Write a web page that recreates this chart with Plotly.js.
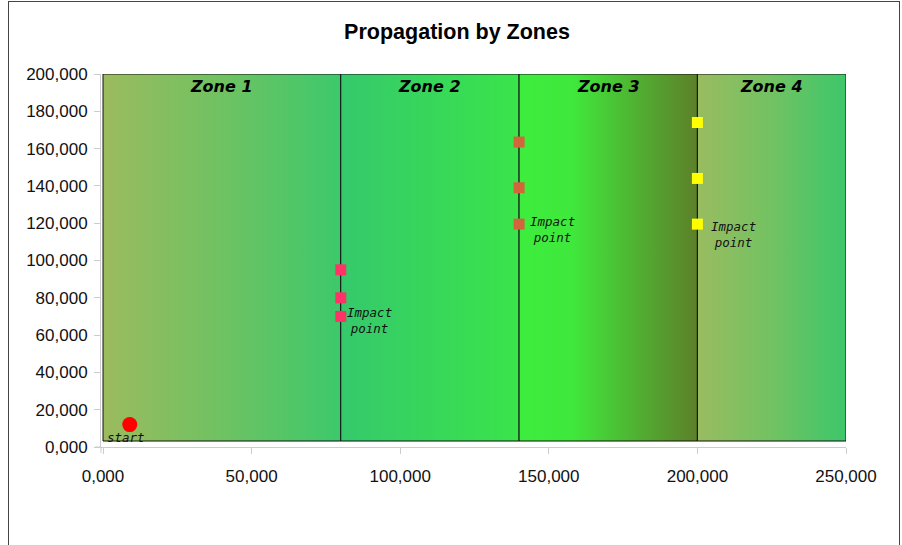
<!DOCTYPE html>
<html>
<head>
<meta charset="utf-8">
<script src="https://cdn.plot.ly/plotly-3.0.1.min.js"></script>
<style>
  html, body { margin: 0; padding: 0; background: #fff; }
  #frame { position: absolute; left: 8px; top: 1px; width: 890px; height: 620px; border: 1px solid #444; }
  #chart { position: absolute; left: 0; top: 0; width: 902px; height: 545px; }
</style>
</head>
<body>
<div id="frame"></div>
<div id="chart"></div>
<script>
// ---- data ----
const zoneNames = ['Zone 1', 'Zone 2', 'Zone 3', 'Zone 4'];
const zoneBounds = [0, 80000, 140000, 200000, 250000];
const zoneBottom = 3200;
const zoneTop = 200000;

const zone2X = [80000, 80000, 80000];
const zone2Y = [95000, 80000, 70000];
const zone3X = [140000, 140000, 140000];
const zone3Y = [163500, 139000, 119500];
const zone4X = [200000, 200000, 200000];
const zone4Y = [174000, 144000, 119500];

const startX = [9000];
const startY = [12000];

const xTicks = [0, 50000, 100000, 150000, 200000, 250000];
const yTicks = [0, 20000, 40000, 60000, 80000, 100000, 120000, 140000, 160000, 180000, 200000];

// ---- styles ----
const zoneScales = [
  [[0, '#9bbb5e'], [0.5, '#6fc262'], [1, '#3cc96b']],
  [[0, '#35c96c'], [1, '#3ae44a']],
  [[0, '#3ded3e'], [0.3, '#40e83c'], [0.7, '#52aa31'], [1, '#5d8029']],
  [[0, '#99bc60'], [0.5, '#72c262'], [1, '#3cc76a']]
];
const pointColors = ['#ff3366', '#d2663a', '#ffff00'];
const impactOffsets = [[4, -4], [9, -5], [12, -10]]; // [xshift, yshift] px
const monoFont = { family: 'DejaVu Sans Mono', size: 12.5, color: '#111' };

const traces = [];
for (let i = 0; i < zoneNames.length; i++) {
  const x0 = zoneBounds[i], x1 = zoneBounds[i + 1];
  traces.push({
    type: 'scatter', mode: 'lines',
    x: [x0, x1, x1, x0, x0],
    y: [zoneBottom, zoneBottom, zoneTop, zoneTop, zoneBottom],
    fill: 'toself',
    fillgradient: { type: 'horizontal', colorscale: zoneScales[i] },
    line: { color: '#111', width: 1 },
    hoverinfo: 'skip'
  });
}
const series = [[zone2X, zone2Y], [zone3X, zone3Y], [zone4X, zone4Y]];
series.forEach((s, i) => {
  traces.push({
    type: 'scatter', mode: 'markers',
    x: s[0], y: s[1],
    marker: { symbol: 'square', size: 11, color: pointColors[i] }
  });
});
traces.push({
  type: 'scatter', mode: 'markers',
  x: startX, y: startY,
  marker: { symbol: 'circle', size: 15, color: '#ff0000' }
});

const annotations = [];
zoneNames.forEach((name, i) => {
  annotations.push({
    x: (zoneBounds[i] + zoneBounds[i + 1]) / 2, y: zoneTop,
    xref: 'x', yref: 'y', text: '<b><i>' + name + '</i></b>',
    showarrow: false, xanchor: 'center', yanchor: 'middle', yshift: -12,
    font: { family: 'DejaVu Sans', size: 16, color: '#000' }
  });
});
series.forEach((s, i) => {
  const n = s[1].length - 1;
  annotations.push({
    x: s[0][n], y: s[1][n], xref: 'x', yref: 'y',
    text: '<i>Impact<br>point</i>', align: 'center',
    showarrow: false, xanchor: 'left', yanchor: 'middle',
    xshift: impactOffsets[i][0], yshift: impactOffsets[i][1],
    font: monoFont
  });
});
annotations.push({
  x: startX[0], y: startY[0], xref: 'x', yref: 'y',
  text: '<i>start</i>', showarrow: false, xanchor: 'center', yanchor: 'middle',
  xshift: -4, yshift: -13, font: monoFont
});

const axisCommon = {
  showgrid: false, zeroline: false,
  showline: true, linecolor: '#cccccc', linewidth: 1,
  ticks: 'outside', ticklen: 6, tickcolor: '#cccccc', tickwidth: 1,
  tickformat: '05,', tickmode: 'array',
  tickfont: { family: 'Liberation Sans, Arial, sans-serif', size: 17, color: '#111' },
  fixedrange: true
};

const layout = {
  width: 902, height: 545,
  margin: { l: 101, r: 56, t: 74, b: 98, pad: 0 },
  paper_bgcolor: 'rgba(0,0,0,0)', plot_bgcolor: 'rgba(0,0,0,0)',
  showlegend: false, hovermode: false,
  title: {
    text: '<b>Propagation by Zones</b>',
    font: { family: 'Liberation Sans, Arial, sans-serif', size: 21.5, color: '#000' },
    x: 457 / 902, xref: 'container', xanchor: 'center',
    y: 1 - 31 / 545, yref: 'container', yanchor: 'middle'
  },
  xaxis: Object.assign({}, axisCommon, {
    range: [-673, 250000], tickvals: xTicks, ticklabelstandoff: 8
  }),
  yaxis: Object.assign({}, axisCommon, {
    range: [0, 200000], tickvals: yTicks, ticklabelstandoff: 3
  }),
  annotations: annotations,
  shapes: [
    { type: 'line', xref: 'paper', yref: 'paper', x0: 0, x1: 0, y0: 0, y1: -6 / 373, line: { color: '#cccccc', width: 1 } },
    { type: 'line', xref: 'paper', yref: 'paper', x0: -6 / 745, x1: 0, y0: 0, y1: 0, line: { color: '#cccccc', width: 1 } }
  ]
};

Plotly.newPlot('chart', traces, layout, { displayModeBar: false, staticPlot: true });
</script>
</body>
</html>
